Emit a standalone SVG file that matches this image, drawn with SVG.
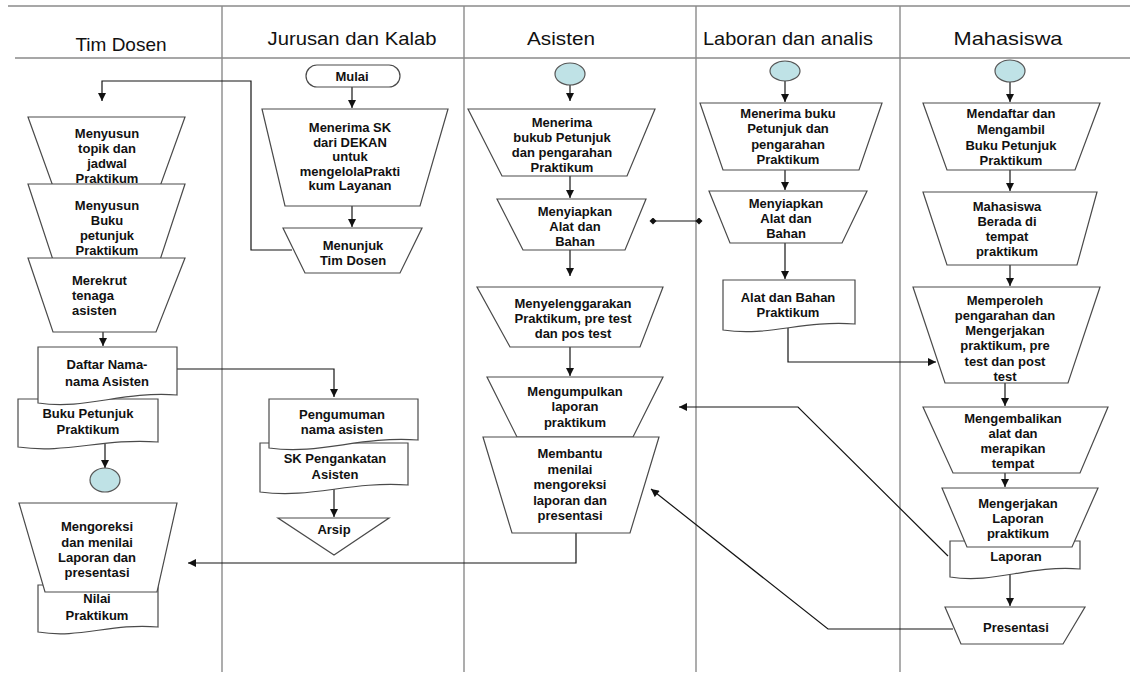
<svg xmlns="http://www.w3.org/2000/svg" width="1130" height="682" viewBox="0 0 1130 682">
<defs>
<marker id="arr" viewBox="0 0 10 10" refX="10" refY="5" markerWidth="9" markerHeight="8" markerUnits="userSpaceOnUse" orient="auto"><path d="M0,0 L10,5 L0,10 Z" fill="#111"/></marker>
<marker id="dia" viewBox="0 0 10 10" refX="5" refY="5" markerWidth="8" markerHeight="7" markerUnits="userSpaceOnUse" orient="auto"><path d="M0,5 L5,0 L10,5 L5,10 Z" fill="#111"/></marker>
<style>
.lane{stroke:#8a8a8a;stroke-width:1.4;fill:none}
.hd{font-family:"Liberation Sans",Arial,sans-serif;font-size:19px;fill:#111;text-anchor:middle}
.sh{fill:#fff;stroke:#4a4a4a;stroke-width:1.2}
.ci{fill:#bfe2e6;stroke:#555;stroke-width:1.2}
.t{font-family:"Liberation Sans",Arial,sans-serif;font-size:13px;font-weight:bold;fill:#111;text-anchor:middle}
.s{text-anchor:start}
.c{fill:none;stroke:#151515;stroke-width:1.2}
</style>
</defs>
<rect width="1130" height="682" fill="#fff"/>
<g id="lanes">
<line class="lane" x1="8" y1="6" x2="1130" y2="6"/>
<line class="lane" x1="15" y1="58" x2="1130" y2="58"/>
<line class="lane" x1="222" y1="6" x2="222" y2="672"/>
<line class="lane" x1="464" y1="6" x2="464" y2="672"/>
<line class="lane" x1="696" y1="6" x2="696" y2="672"/>
<line class="lane" x1="900" y1="6" x2="900" y2="672"/>
<text class="hd" x="121" y="51">Tim Dosen</text>
<text class="hd" x="352" y="45" textLength="169" lengthAdjust="spacingAndGlyphs">Jurusan dan Kalab</text>
<text class="hd" x="561" y="45" textLength="68" lengthAdjust="spacingAndGlyphs">Asisten</text>
<text class="hd" x="788" y="45" textLength="170" lengthAdjust="spacingAndGlyphs">Laboran dan analis</text>
<text class="hd" x="1008" y="45" textLength="109" lengthAdjust="spacingAndGlyphs">Mahasiswa</text>
</g>
<g id="connectors">
<polyline class="c" points="292,250 251,250 251,81 102,81 102,101" marker-end="url(#arr)"/>
<line class="c" x1="103" y1="332" x2="103" y2="346" marker-end="url(#arr)"/>
<line class="c" x1="105" y1="444" x2="105" y2="468" marker-end="url(#arr)"/>
<polyline class="c" points="177,369 334,369 334,397" marker-end="url(#arr)"/>
<line class="c" x1="352" y1="87" x2="352" y2="108" marker-end="url(#arr)"/>
<line class="c" x1="352" y1="206" x2="352" y2="227" marker-end="url(#arr)"/>
<line class="c" x1="334" y1="489" x2="334" y2="517" marker-end="url(#arr)"/>
<line class="c" x1="570" y1="85" x2="570" y2="101" marker-end="url(#arr)"/>
<line class="c" x1="570" y1="176" x2="570" y2="198" marker-end="url(#arr)"/>
<line class="c" x1="570" y1="250" x2="570" y2="276" marker-end="url(#arr)"/>
<line class="c" x1="570" y1="347" x2="570" y2="376" marker-end="url(#arr)"/>
<line class="c" x1="653" y1="221" x2="699" y2="221" marker-start="url(#dia)" marker-end="url(#dia)"/>
<polyline class="c" points="576,533 576,563 188,563" marker-end="url(#arr)"/>
<line class="c" x1="785" y1="81" x2="785" y2="102" marker-end="url(#arr)"/>
<line class="c" x1="785" y1="170" x2="785" y2="190" marker-end="url(#arr)"/>
<line class="c" x1="785" y1="243" x2="785" y2="279" marker-end="url(#arr)"/>
<polyline class="c" points="788,327 788,362 936,362" marker-end="url(#arr)"/>
<line class="c" x1="1010" y1="82" x2="1010" y2="102" marker-end="url(#arr)"/>
<line class="c" x1="1010" y1="170" x2="1010" y2="191" marker-end="url(#arr)"/>
<line class="c" x1="1010" y1="265" x2="1010" y2="286" marker-end="url(#arr)"/>
<line class="c" x1="1005" y1="383" x2="1005" y2="406" marker-end="url(#arr)"/>
<line class="c" x1="1005" y1="473" x2="1005" y2="487" marker-end="url(#arr)"/>
<line class="c" x1="1010" y1="574" x2="1010" y2="606" marker-end="url(#arr)"/>
<polyline class="c" points="948,556 798,407 679,407" marker-end="url(#arr)"/>
<polyline class="c" points="953,629 828,629 651,489" marker-end="url(#arr)"/>
</g>
<g id="t1"><polygon class="sh" points="28,117 185,117 158,192 55,192"/>
<text class="t" x="107" y="138">Menyusun</text><text class="t" x="107" y="153">topik dan</text><text class="t" x="107" y="168">jadwal</text><text class="t" x="107" y="183">Praktikum</text></g>
<g id="t2"><polygon class="sh" points="28,184 185,184 158,266 55,266"/>
<text class="t" x="107" y="210">Menyusun</text><text class="t" x="107" y="225">Buku</text><text class="t" x="107" y="240">petunjuk</text><text class="t" x="107" y="255">Praktikum</text></g>
<g id="t3"><polygon class="sh" points="28,258 185,258 156,332 53,332"/>
<text class="t s" x="72" y="285">Merekrut</text><text class="t s" x="72" y="300">tenaga</text><text class="t s" x="72" y="315">asisten</text></g>
<g id="t_buku"><path class="sh" d="M18,399 H158 V442 C102,438 67,454 18,447 Z"/>
<text class="t" x="88" y="418">Buku Petunjuk</text><text class="t" x="88" y="434">Praktikum</text></g>
<g id="t_daftar"><path class="sh" d="M38,347 H177 V395 C121,391 87,410 38,403 Z"/>
<text class="t" x="107" y="369">Daftar Nama-</text><text class="t" x="107" y="386">nama Asisten</text></g>
<g id="t_circle"><ellipse class="ci" cx="105" cy="480" rx="15" ry="12"/></g>
<g id="t_nilai"><path class="sh" d="M38,585 H158 V627 C110,623 80,639 38,632 Z"/>
<text class="t" x="97" y="603">Nilai</text><text class="t" x="97" y="620">Praktikum</text></g>
<g id="t4"><polygon class="sh" points="19,503 177,503 157,592 45,592"/>
<text class="t" x="97" y="531">Mengoreksi</text><text class="t" x="97" y="546.5">dan menilai</text><text class="t" x="97" y="562">Laporan dan</text><text class="t" x="97" y="577">presentasi</text></g>
<g id="j_mulai"><rect class="sh" x="306" y="65" width="94" height="22" rx="11"/>
<text class="t" x="352" y="81">Mulai</text></g>
<g id="j1"><polygon class="sh" points="262,109 448,109 420,206 285,206"/>
<text class="t" x="350" y="132">Menerima SK</text><text class="t" x="350" y="146.5">dari DEKAN</text><text class="t" x="350" y="161">untuk</text><text class="t" x="350" y="175.5">mengelolaPrakti</text><text class="t" x="350" y="190">kum Layanan</text></g>
<g id="j2"><polygon class="sh" points="283,228 422,228 400,273 305,273"/>
<text class="t" x="353" y="250">Menunjuk</text><text class="t" x="353" y="265">Tim Dosen</text></g>
<g id="j_sk"><path class="sh" d="M260,443 H408 V485 C349,481 312,499 260,492 Z"/>
<text class="t" x="335" y="463">SK Pengankatan</text><text class="t" x="335" y="479">Asisten</text></g>
<g id="j_peng"><path class="sh" d="M269,399 H418 V440 C358,436 321,455 269,448 Z"/>
<text class="t" x="342" y="419">Pengumuman</text><text class="t" x="342" y="434">nama asisten</text></g>
<g id="j_arsip"><polygon class="sh" points="278,518 389,518 334,555"/>
<text class="t" x="334" y="534">Arsip</text></g>
<g id="a_circle"><ellipse class="ci" cx="570" cy="74" rx="15" ry="11"/></g>
<g id="a1"><polygon class="sh" points="468,109 655,109 627,176 502,176"/>
<text class="t" x="562" y="127">Menerima</text><text class="t" x="562" y="142">bukub Petunjuk</text><text class="t" x="562" y="157">dan pengarahan</text><text class="t" x="562" y="172">Praktikum</text></g>
<g id="a2"><polygon class="sh" points="497,199 646,199 625,250 523,250"/>
<text class="t" x="575" y="216">Menyiapkan</text><text class="t" x="575" y="231">Alat dan</text><text class="t" x="575" y="246">Bahan</text></g>
<g id="a3"><polygon class="sh" points="477,287 663,287 640,347 510,347"/>
<text class="t" x="573" y="308">Menyelenggarakan</text><text class="t" x="573" y="323">Praktikum, pre test</text><text class="t" x="573" y="338">dan pos test</text></g>
<g id="a4"><polygon class="sh" points="487,377 663,377 633,437 517,437"/>
<text class="t" x="575" y="396">Mengumpulkan</text><text class="t" x="575" y="411">laporan</text><text class="t" x="575" y="427">praktikum</text></g>
<g id="a5"><polygon class="sh" points="483,437 659,437 630,533 512,533"/>
<text class="t" x="570" y="458">Membantu</text><text class="t" x="570" y="473.5">menilai</text><text class="t" x="570" y="489">mengoreksi</text><text class="t" x="570" y="504.5">laporan dan</text><text class="t" x="570" y="520">presentasi</text></g>
<g id="l_circle"><ellipse class="ci" cx="785" cy="71" rx="15" ry="10"/></g>
<g id="l1"><polygon class="sh" points="700,103 882,103 859,170 723,170"/>
<text class="t" x="788" y="118">Menerima buku</text><text class="t" x="788" y="133">Petunjuk dan</text><text class="t" x="788" y="148.5">pengarahan</text><text class="t" x="788" y="164">Praktikum</text></g>
<g id="l2"><polygon class="sh" points="709,191 867,191 842,243 730,243"/>
<text class="t" x="786" y="208">Menyiapkan</text><text class="t" x="786" y="223">Alat dan</text><text class="t" x="786" y="238">Bahan</text></g>
<g id="l3"><path class="sh" d="M723,280 H855 V324 C802,320 769,337 723,330 Z"/>
<text class="t" x="788" y="302">Alat dan Bahan</text><text class="t" x="788" y="317">Praktikum</text></g>
<g id="m_circle"><ellipse class="ci" cx="1010" cy="71" rx="15" ry="11"/></g>
<g id="m1"><polygon class="sh" points="923,103 1100,103 1075,170 947,170"/>
<text class="t" x="1011" y="118">Mendaftar dan</text><text class="t" x="1011" y="134">Mengambil</text><text class="t" x="1011" y="150">Buku Petunjuk</text><text class="t" x="1011" y="165">Praktikum</text></g>
<g id="m2"><polygon class="sh" points="923,192 1097,192 1077,265 947,265"/>
<text class="t" x="1007" y="211">Mahasiswa</text><text class="t" x="1007" y="226">Berada di</text><text class="t" x="1007" y="241">tempat</text><text class="t" x="1007" y="256">praktikum</text></g>
<g id="m3"><polygon class="sh" points="913,287 1100,287 1068,383 945,383"/>
<text class="t" x="1005" y="305">Memperoleh</text><text class="t" x="1005" y="320">pengarahan dan</text><text class="t" x="1005" y="335">Mengerjakan</text><text class="t" x="1005" y="350">praktikum, pre</text><text class="t" x="1005" y="366">test dan post</text><text class="t" x="1005" y="381">test</text></g>
<g id="m4"><polygon class="sh" points="923,407 1108,407 1080,473 953,473"/>
<text class="t" x="1013" y="423">Mengembalikan</text><text class="t" x="1013" y="438">alat dan</text><text class="t" x="1013" y="453">merapikan</text><text class="t" x="1013" y="468">tempat</text></g>
<g id="m_lap"><path class="sh" d="M950,541 H1080 V569 C1028,565 995,584 950,577 Z"/>
<text class="t" x="1016" y="561">Laporan</text></g>
<g id="m5"><polygon class="sh" points="942,488 1098,488 1072,547 967,547"/>
<text class="t" x="1018" y="508">Mengerjakan</text><text class="t" x="1018" y="523">Laporan</text><text class="t" x="1018" y="538">praktikum</text></g>
<g id="m6"><polygon class="sh" points="945,607 1085,607 1063,644 961,644"/>
<text class="t" x="1016" y="632">Presentasi</text></g>
</svg>
